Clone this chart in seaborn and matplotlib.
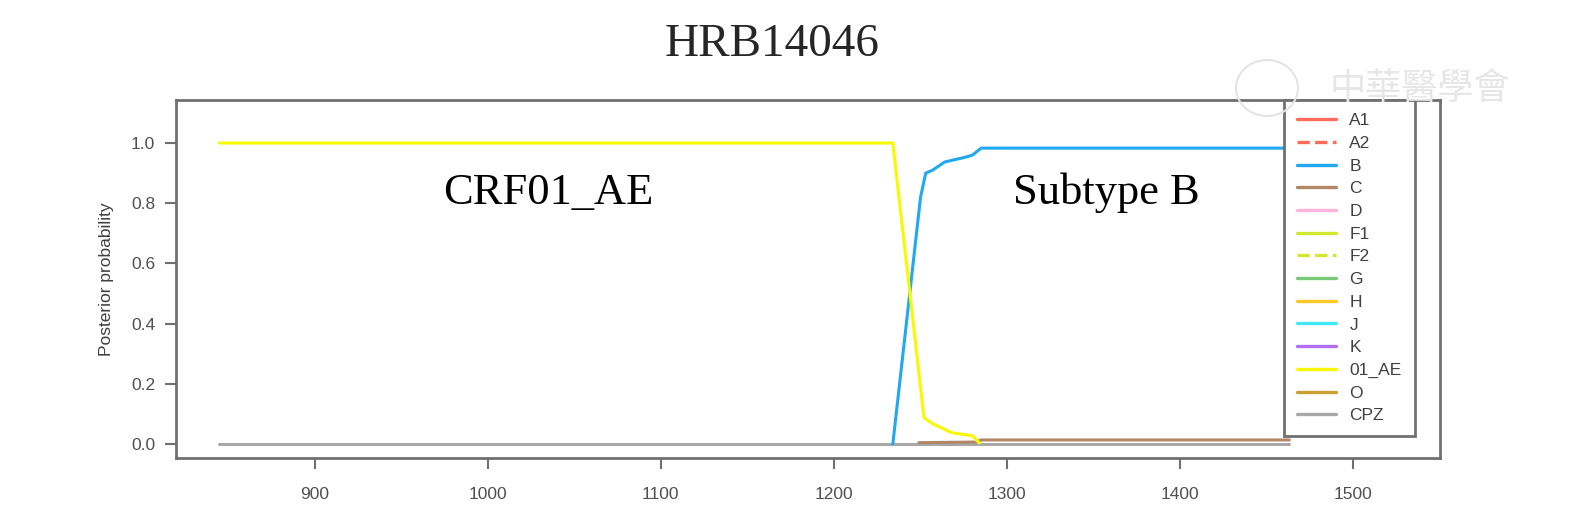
import numpy as np
import pandas as pd
import seaborn as sns
import matplotlib.pyplot as plt
from matplotlib.lines import Line2D
from matplotlib.patches import Ellipse

# posterior probability traces
ae_x = [845, 1234, 1252, 1257, 1268, 1280, 1284]
ae_y = [1.0, 1.0, 0.087, 0.067, 0.037, 0.027, 0.003]

b_x = [1234, 1250, 1253, 1257, 1264, 1276, 1280, 1285, 1463]
b_y = [0.0, 0.82, 0.90, 0.91, 0.937, 0.953, 0.96, 0.983, 0.983]

c_x = [1249, 1282, 1285, 1463]
c_y = [0.004, 0.006, 0.013, 0.013]

cpz_x = [845, 1463]
cpz_y = [0.0, 0.0]

# legend entries
labels = ['A1', 'A2', 'B', 'C', 'D', 'F1', 'F2', 'G', 'H', 'J', 'K', '01_AE', 'O', 'CPZ']
colors = ['#FF6A5A', '#FF6A5A', '#20A8F0', '#B08868', '#FFB4DC', '#D2E830', '#D2E830',
          '#78C878', '#FFC828', '#40E8F8', '#B070F0', '#F8F800', '#C8A030', '#A8A8A8']
styles = ['-', '--', '-', '-', '-', '-', '--', '-', '-', '-', '-', '-', '-', '-']

df = pd.concat([
    pd.DataFrame({'pos': cpz_x, 'prob': cpz_y, 'subtype': 'CPZ'}),
    pd.DataFrame({'pos': c_x, 'prob': c_y, 'subtype': 'C'}),
    pd.DataFrame({'pos': b_x, 'prob': b_y, 'subtype': 'B'}),
    pd.DataFrame({'pos': ae_x, 'prob': ae_y, 'subtype': '01_AE'}),
])
pal = dict(zip(labels, colors))

sns.set_style('white')
plt.rcParams['font.family'] = ['Liberation Sans', 'DejaVu Sans']

fig = plt.figure(figsize=(15.78, 5.17), dpi=100)
ax = fig.add_axes([176 / 1578, 59 / 517, 1264 / 1578, 358 / 517])

sns.lineplot(data=df, x='pos', y='prob', hue='subtype', palette=pal,
             hue_order=['CPZ', 'C', 'B', '01_AE'], legend=False,
             linewidth=2.2, estimator=None, sort=False, ax=ax)

ax.set_xlim(820, 1550)
ax.set_ylim(-0.047, 1.143)
ax.set_xticks([900, 1000, 1100, 1200, 1300, 1400, 1500])
ax.set_yticks([0.0, 0.2, 0.4, 0.6, 0.8, 1.0])
ax.set_yticklabels(['0.0', '0.2', '0.4', '0.6', '0.8', '1.0'])
ax.set_xlabel('')
ax.set_ylabel('Posterior probability', fontsize=12.5, color='#404040', labelpad=12)
ax.tick_params(axis='both', which='both', direction='out', length=8, width=1.5,
               color='#707070', labelsize=12.5, labelcolor='#505050',
               left=True, bottom=True)
ax.tick_params(axis='x', pad=13)
ax.tick_params(axis='y', pad=7)
for s in ax.spines.values():
    s.set_color('#707070')
    s.set_linewidth(2)

# region labels
ax.text(1035, 0.835, 'CRF01_AE', fontsize=32, family='Liberation Serif',
        ha='center', va='center', color='black')
ax.text(1357, 0.835, 'Subtype B', fontsize=32, family='Liberation Serif',
        ha='center', va='center', color='black')

handles = [Line2D([0], [0], color=c, ls=st, lw=2.4) for c, st in zip(colors, styles)]
leg = ax.legend(handles, labels, loc='upper right', bbox_to_anchor=(0.98, 1.0),
                borderaxespad=0, fontsize=12.5, labelspacing=0.435, handlelength=2.2,
                handletextpad=0.8, borderpad=0.75, fancybox=False, framealpha=1)
leg.get_frame().set_edgecolor('#707070')
leg.get_frame().set_linewidth(2)
for t in leg.get_texts():
    t.set_color('#404040')

fig.suptitle('HRB14046', fontsize=34, family='Liberation Serif', x=772 / 1578, y=0.955)

# faint watermark
fig.text(1420 / 1578, 1 - 89 / 517, '中華醫學會', fontsize=26, color='#e6e6e6',
         family=['Noto Sans CJK TC', 'DejaVu Sans'], ha='center', va='center')
fig.add_artist(Ellipse((1267 / 1578, 1 - 88 / 517), 62 / 1578, 56 / 517,
                       transform=fig.transFigure, fill=False, ec='#e4e4e4', lw=1.5))

fig.savefig('out.png', dpi=100)
